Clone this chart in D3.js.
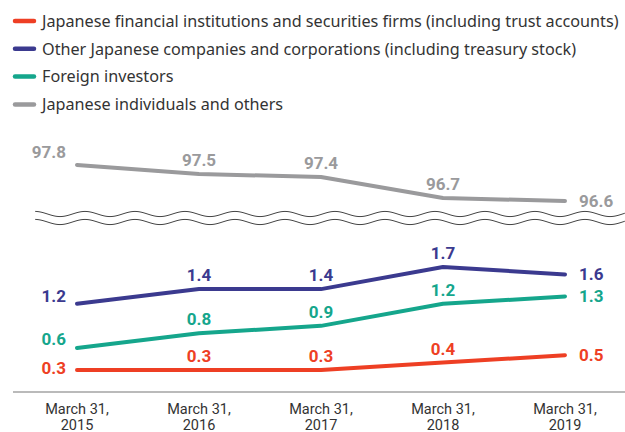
<!DOCTYPE html>
<meta charset="utf-8">
<script src="https://d3js.org/d3.v7.min.js"></script>
<style>
  body { margin: 0; background: #fff; }
  text { font-family: Roboto, "Noto Sans", sans-serif; }
  .legend text { font-family: "Noto Sans", Roboto, sans-serif; }
</style>
<div id="chart"></div>
<script>

// data
var years = ["2015", "2016", "2017", "2018", "2019"];
var financial = [0.3, 0.3, 0.3, 0.4, 0.5];
var companies = [1.2, 1.4, 1.4, 1.7, 1.6];
var foreign = [0.6, 0.8, 0.9, 1.2, 1.3];
var individuals = [97.8, 97.5, 97.4, 96.7, 96.6];

var names = [
  "Japanese financial institutions and securities firms (including trust accounts)",
  "Other Japanese companies and corporations (including treasury stock)",
  "Foreign investors",
  "Japanese individuals and others"
];
var colors = ["#ee3f24", "#3b3a8f", "#15a68c", "#9a9a9c"];

var width = 625, height = 432;

var svg = d3.select("#chart")
  .append("svg")
  .attr("width", width)
  .attr("height", height);

// scales
var x = d3.scalePoint().domain(years).range([77, 565]);
var yLow = d3.scaleLinear().domain([0, 2]).range([392, 245]);
var yHigh = d3.scaleLinear().domain([96.5, 98]).range([204, 159]);

var series = [
  {values: financial, color: colors[0], y: yLow, leftDy: 4},
  {values: companies, color: colors[1], y: yLow, leftDy: -2},
  {values: foreign, color: colors[2], y: yLow, leftDy: -3},
  {values: individuals, color: colors[3], y: yHigh, leftDy: -7}
];

// legend
var legend = svg.append("g").attr("class", "legend");
names.forEach(function(name, i) {
  var g = legend.append("g").attr("transform", "translate(0," + (21 + i * 27.8) + ")");
  g.append("line")
    .attr("x1", 15).attr("x2", 34)
    .attr("stroke", colors[i])
    .attr("stroke-width", 4.5)
    .attr("stroke-linecap", "round");
  g.append("text")
    .attr("x", 42)
    .attr("dy", "0.36em")
    .attr("font-size", 16.2)
    .attr("fill", "#333")
    .text(name);
});

// axis break (wavy lines)
var wave = d3.line().curve(d3.curveBasis);
[214, 222].forEach(function(cy) {
  var pts = d3.range(35, 626, 2).map(function(px) {
    return [px, cy - 2.6 * Math.cos(2 * Math.PI * (px - 35) / 50)];
  });
  svg.append("path")
    .attr("d", wave(pts))
    .attr("fill", "none")
    .attr("stroke", "#444")
    .attr("stroke-width", 1);
});

// x axis
svg.append("line")
  .attr("x1", 13).attr("x2", width)
  .attr("y1", yLow(0)).attr("y2", yLow(0))
  .attr("stroke", "#777")
  .attr("stroke-width", 1.2);

var xlab = svg.selectAll(".xlab")
  .data(years)
  .enter()
  .append("text")
  .attr("class", "xlab")
  .attr("text-anchor", "middle")
  .attr("font-size", 14.5)
  .attr("fill", "#333");
xlab.append("tspan").attr("x", function(d) { return x(d); }).attr("y", 414).text("March 31,");
xlab.append("tspan").attr("x", function(d) { return x(d); }).attr("y", 429.5).text(function(d) { return d; });

// lines
var line = function(s) {
  return d3.line()
    .x(function(d, i) { return x(years[i]); })
    .y(function(d) { return s.y(d); })(s.values);
};

series.forEach(function(s) {
  svg.append("path")
    .attr("d", line(s))
    .attr("fill", "none")
    .attr("stroke", s.color)
    .attr("stroke-width", 4)
    .attr("stroke-linejoin", "round")
    .attr("stroke-linecap", "round");

  var last = s.values.length - 1;
  svg.selectAll(null)
    .data(s.values)
    .enter()
    .append("text")
    .attr("font-size", 17)
    .attr("font-weight", "bold")
    .attr("fill", s.color)
    .attr("x", function(d, i) {
      if (i === 0) return x(years[i]) - 11;
      if (i === last) return x(years[i]) + 14;
      return x(years[i]);
    })
    .attr("y", function(d, i) {
      if (i === 0) return s.y(d) + s.leftDy;
      if (i === last) return s.y(d) + 6;
      return s.y(d) - 8;
    })
    .attr("text-anchor", function(d, i) {
      if (i === 0) return "end";
      if (i === last) return "start";
      return "middle";
    })
    .text(function(d) { return d.toFixed(1); });
});

</script>
